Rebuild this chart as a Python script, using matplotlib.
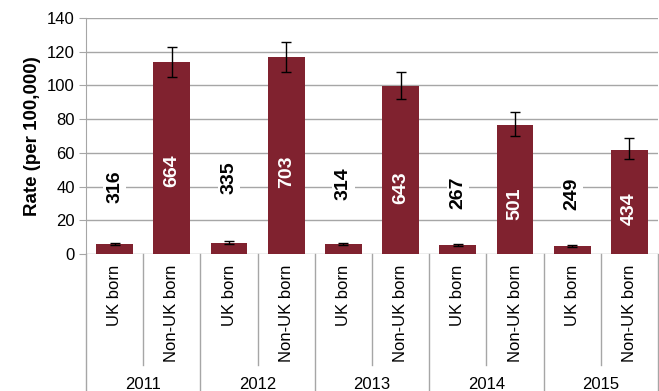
import numpy as np
import matplotlib.pyplot as plt
import matplotlib.transforms as mtransforms

plt.rcParams['font.family'] = ['Liberation Sans', 'DejaVu Sans']

years = ['2011', '2012', '2013', '2014', '2015']
groups = ['UK born', 'Non-UK born']

# rate per 100,000 for each year
uk_rate = [5.9, 6.7, 6.0, 5.3, 4.9]
nonuk_rate = [113.7, 117.0, 99.8, 76.8, 61.8]
# error bar ends (lower, upper)
uk_lo = [5.1, 5.9, 5.2, 4.7, 4.2]
uk_hi = [6.7, 7.5, 6.8, 5.9, 5.6]
nonuk_lo = [105.0, 108.0, 92.0, 70.0, 56.2]
nonuk_hi = [123.0, 126.0, 107.8, 84.0, 68.6]
# case counts shown on the bars
uk_count = [316, 335, 314, 267, 249]
nonuk_count = [664, 703, 643, 501, 434]
# height where each count label sits
uk_label_y = [40, 45, 41.5, 36.5, 35.6]
nonuk_label_y = [49.5, 48.6, 39.5, 30, 26.7]

bar_color = '#80222F'
grid_color = '#A6A6A6'

vals = []
lo = []
hi = []
counts = []
label_y = []
for i in range(len(years)):
    vals += [uk_rate[i], nonuk_rate[i]]
    lo += [uk_lo[i], nonuk_lo[i]]
    hi += [uk_hi[i], nonuk_hi[i]]
    counts += [uk_count[i], nonuk_count[i]]
    label_y += [uk_label_y[i], nonuk_label_y[i]]
vals = np.array(vals)
err = np.array([vals - np.array(lo), np.array(hi) - vals])
x = np.arange(len(vals))

fig = plt.figure(figsize=(6.59, 3.91), dpi=100)
ax = fig.add_axes([86 / 659, 1 - 254 / 391, (658 - 86) / 659, 236 / 391])

ax.bar(x, vals, width=0.64, color=bar_color, zorder=2)
ax.errorbar(x, vals, yerr=err, fmt='none', ecolor='black', elinewidth=1,
            capsize=3.8, capthick=1, zorder=3)

for xi, c, ly in zip(x, counts, label_y):
    if xi % 2 == 0:
        ax.text(xi, ly, str(c), rotation=90, ha='center', va='center',
                fontsize=14, fontweight='bold', color='black', zorder=4,
                bbox=dict(facecolor='white', edgecolor='none', pad=2))
    else:
        ax.text(xi, ly, str(c), rotation=90, ha='center', va='center',
                fontsize=14, fontweight='bold', color='white', zorder=4)

ax.set_xlim(-0.5, len(vals) - 0.5)
ax.set_ylim(0, 140)
ax.set_yticks(np.arange(0, 141, 20))
ax.yaxis.grid(True, color=grid_color, linewidth=1)
ax.set_axisbelow(True)
ax.tick_params(axis='y', labelsize=12, length=5, color=grid_color, pad=3)
ax.set_xticks([])
for s in ['top', 'right', 'bottom']:
    ax.spines[s].set_visible(False)
ax.spines['left'].set_color(grid_color)
ax.set_ylabel('Rate (per 100,000)', fontsize=13.5, fontweight='bold', labelpad=4)

# two level category axis
trans = mtransforms.blended_transform_factory(ax.transData, ax.transAxes)
for b in np.arange(-0.5, len(vals), 1.0):
    if int(b + 0.5) % 2 == 0:
        ax.plot([b, b], [0, -0.58], color=grid_color, lw=1, transform=trans, clip_on=False)
    else:
        ax.plot([b, b], [0, -0.47], color=grid_color, lw=1, transform=trans, clip_on=False)
for xi in x:
    ax.text(xi, -0.045, groups[xi % 2], rotation=90, ha='center', va='top',
            fontsize=12, transform=trans)
for i, yr in enumerate(years):
    ax.text(2 * i + 0.5, -0.553, yr, ha='center', va='center', fontsize=12,
            transform=trans)

fig.savefig('out.png', dpi=100)
